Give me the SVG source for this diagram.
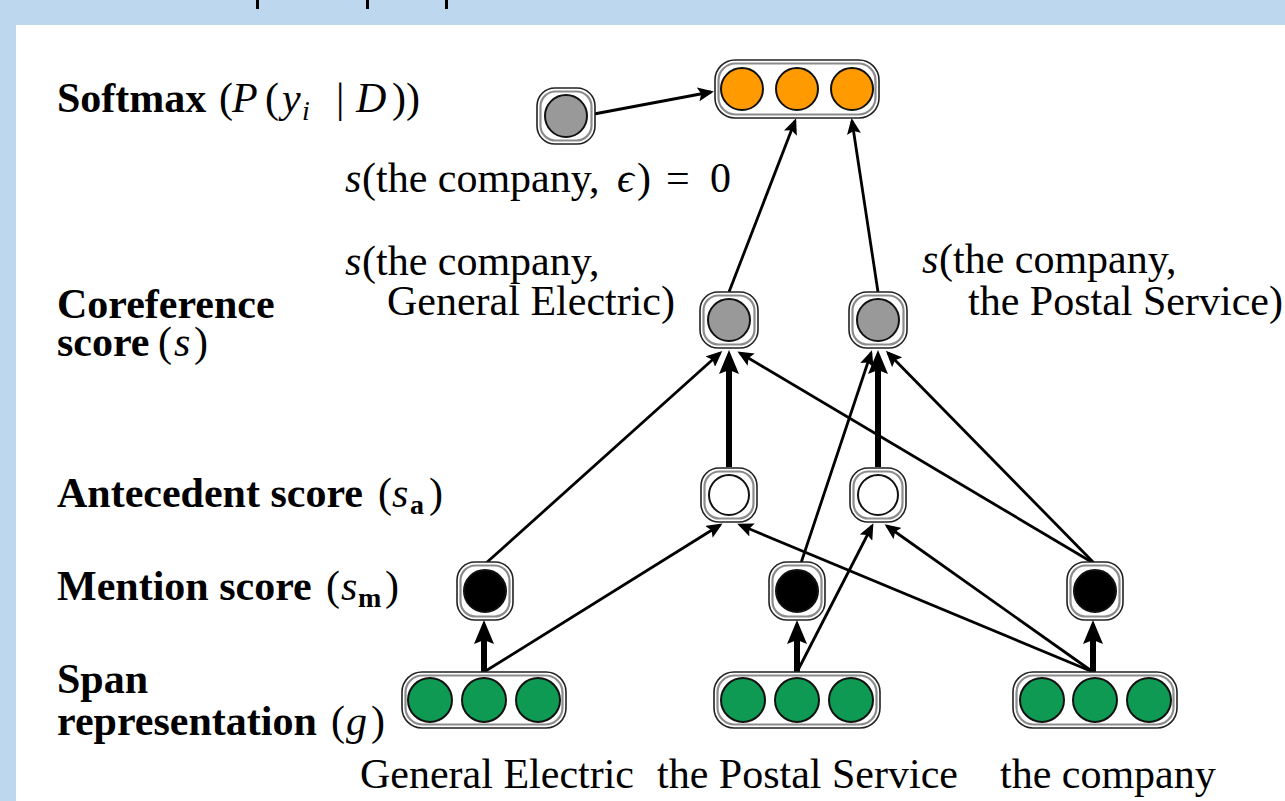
<svg xmlns="http://www.w3.org/2000/svg" width="1285" height="801" viewBox="0 0 1285 801">
<style>
.t{font-family:"Liberation Serif","Times New Roman",serif;font-size:42px;fill:#000}
.b{font-weight:bold}
.i{font-style:italic}
.sm{font-size:28px}
.fo{fill:#fff;stroke:#222;stroke-width:1.6}
.fi{fill:none;stroke:#8c8c8c;stroke-width:2.2}
.c{stroke:#111;stroke-width:2}
.gray{fill:#999}
.blk{fill:#000}
.wht{fill:#fff}
.org{fill:#FF9A00}
.grn{fill:#0F9A54}
.thin{stroke:#000;stroke-width:2.8;fill:none;marker-end:url(#ah)}
.thick{stroke:#000;stroke-width:6;fill:none;marker-end:url(#ahb)}
</style>
<defs>
<marker id="ah" viewBox="0 0 16 14" markerWidth="16" markerHeight="14" refX="13" refY="7" orient="auto" markerUnits="userSpaceOnUse">
<path d="M0,0 L16,7 L0,14 L3,7 z" fill="#000"/>
</marker>
<marker id="ahb" viewBox="0 0 24 20" markerWidth="24" markerHeight="20" refX="16" refY="10" orient="auto" markerUnits="userSpaceOnUse">
<path d="M0,0 L24,10 L0,20 L4,10 z" fill="#000"/>
</marker>
</defs>
<rect x="0" y="0" width="1285" height="801" fill="#BDD7EE"/>
<rect x="16" y="25" width="1269" height="776" fill="#fff"/>
<g id="top-ticks" fill="#000">
<rect x="256" y="0" width="3" height="9"/>
<rect x="366" y="0" width="3" height="9"/>
<rect x="445" y="0" width="3" height="9"/>
</g>

<g id="connectors">
<line class="thin" x1="594" y1="114" x2="711" y2="92"/>
<line class="thin" x1="729" y1="292" x2="795" y2="121"/>
<line class="thin" x1="878" y1="292" x2="852" y2="121"/>
<line class="thick" x1="729" y1="467" x2="729" y2="358"/>
<line class="thick" x1="878" y1="467" x2="878" y2="358"/>
<line class="thin" x1="485" y1="564" x2="720" y2="353"/>
<line class="thin" x1="1095" y1="564" x2="740" y2="353"/>
<line class="thin" x1="800" y1="566" x2="871" y2="353"/>
<line class="thin" x1="1095" y1="564" x2="888" y2="353"/>
<line class="thick" x1="484" y1="672" x2="484" y2="628"/>
<line class="thin" x1="484" y1="672" x2="720" y2="525"/>
<line class="thick" x1="797" y1="672" x2="797" y2="628"/>
<line class="thin" x1="797" y1="672" x2="872" y2="526"/>
<line class="thick" x1="1093" y1="672" x2="1093" y2="628"/>
<line class="thin" x1="1093" y1="672" x2="740" y2="525"/>
<line class="thin" x1="1093" y1="672" x2="887" y2="526"/>
</g>

<g id="softmax" transform="translate(797,89)">
<rect class="fo" x="-82" y="-29" width="164" height="58" rx="20"/>
<rect class="fi" x="-78.5" y="-25.5" width="157" height="51" rx="17"/>
<circle class="c org" cx="-55" cy="0" r="21"/>
<circle class="c org" cx="0" cy="0" r="21"/>
<circle class="c org" cx="55" cy="0" r="21"/>
</g>
<g id="null-score" transform="translate(566,116)">
<rect class="fo" x="-29" y="-28" width="58" height="56" rx="18"/>
<rect class="fi" x="-25.5" y="-24.5" width="51" height="49" rx="15"/>
<circle class="c gray" r="21"/>
</g>
<g id="coref-ge" transform="translate(729,320)">
<rect class="fo" x="-29" y="-28" width="58" height="56" rx="18"/>
<rect class="fi" x="-25.5" y="-24.5" width="51" height="49" rx="15"/>
<circle class="c gray" r="21"/>
</g>
<g id="coref-ps" transform="translate(878,320)">
<rect class="fo" x="-29" y="-28" width="58" height="56" rx="18"/>
<rect class="fi" x="-25.5" y="-24.5" width="51" height="49" rx="15"/>
<circle class="c gray" r="21"/>
</g>
<g id="ante-ge" transform="translate(729,495)">
<rect class="fo" x="-28" y="-27" width="56" height="54" rx="18"/>
<rect class="fi" x="-24.5" y="-23.5" width="49" height="47" rx="15"/>
<circle class="c wht" r="20"/>
</g>
<g id="ante-ps" transform="translate(878,495)">
<rect class="fo" x="-28" y="-27" width="56" height="54" rx="18"/>
<rect class="fi" x="-24.5" y="-23.5" width="49" height="47" rx="15"/>
<circle class="c wht" r="20"/>
</g>
<g id="mention-ge" transform="translate(485,591)">
<rect class="fo" x="-28" y="-29" width="56" height="58" rx="18"/>
<rect class="fi" x="-24.5" y="-25.5" width="49" height="51" rx="15"/>
<circle class="c blk" r="21"/>
</g>
<g id="mention-ps" transform="translate(797,591)">
<rect class="fo" x="-28" y="-29" width="56" height="58" rx="18"/>
<rect class="fi" x="-24.5" y="-25.5" width="49" height="51" rx="15"/>
<circle class="c blk" r="21"/>
</g>
<g id="mention-tc" transform="translate(1095,591)">
<rect class="fo" x="-28" y="-29" width="56" height="58" rx="18"/>
<rect class="fi" x="-24.5" y="-25.5" width="49" height="51" rx="15"/>
<circle class="c blk" r="21"/>
</g>
<g id="span-ge" transform="translate(484,700)">
<rect class="fo" x="-82" y="-28" width="164" height="56" rx="20"/>
<rect class="fi" x="-78.5" y="-24.5" width="157" height="49" rx="17"/>
<circle class="c grn" cx="-54" cy="0" r="22"/>
<circle class="c grn" cx="0" cy="0" r="22"/>
<circle class="c grn" cx="54" cy="0" r="22"/>
</g>
<g id="span-ps" transform="translate(797,700)">
<rect class="fo" x="-83" y="-28" width="166" height="56" rx="20"/>
<rect class="fi" x="-79.5" y="-24.5" width="159" height="49" rx="17"/>
<circle class="c grn" cx="-54" cy="0" r="22"/>
<circle class="c grn" cx="0" cy="0" r="22"/>
<circle class="c grn" cx="54" cy="0" r="22"/>
</g>
<g id="span-tc" transform="translate(1095,700)">
<rect class="fo" x="-82" y="-28" width="164" height="56" rx="20"/>
<rect class="fi" x="-78.5" y="-24.5" width="157" height="49" rx="17"/>
<circle class="c grn" cx="-53" cy="0" r="22"/>
<circle class="c grn" cx="0" cy="0" r="22"/>
<circle class="c grn" cx="54" cy="0" r="22"/>
</g>

<g id="labels">
<text class="t" y="112"><tspan class="b" x="57">Softmax</tspan><tspan x="219">(</tspan><tspan class="i" x="232">P</tspan><tspan x="265">(</tspan><tspan class="i" x="282">y</tspan><tspan class="i sm" x="302" y="120">i</tspan><tspan x="336" y="112">|</tspan><tspan class="i" x="356">D</tspan><tspan x="392">))</tspan></text>
<text class="t b" x="57" y="318">Coreference</text>
<text class="t" y="356"><tspan class="b" x="57">score</tspan><tspan x="158">(</tspan><tspan class="i" x="174">s</tspan><tspan x="194">)</tspan></text>
<text class="t" y="507"><tspan class="b" x="57">Antecedent score</tspan><tspan x="378">(</tspan><tspan class="i" x="392">s</tspan><tspan class="b sm" x="410" y="514">a</tspan><tspan x="429" y="507">)</tspan></text>
<text class="t" y="600"><tspan class="b" x="57">Mention score</tspan><tspan x="326">(</tspan><tspan class="i" x="341">s</tspan><tspan class="b sm" x="358" y="607">m</tspan><tspan x="385" y="600">)</tspan></text>
<text class="t b" x="57" y="693">Span</text>
<text class="t" y="735"><tspan class="b" x="57">representation</tspan><tspan x="331">(</tspan><tspan class="i" x="346">g</tspan><tspan x="371">)</tspan></text>

<text class="t" y="192"><tspan class="i" x="345">s</tspan><tspan x="362">(the company,</tspan><tspan class="i" x="617">ϵ</tspan><tspan x="637">)</tspan><tspan x="666">=</tspan><tspan x="710">0</tspan></text>
<text class="t" y="275"><tspan class="i" x="345">s</tspan><tspan x="362">(the company,</tspan></text>
<text class="t" x="387" y="315">General Electric)</text>
<text class="t" y="273"><tspan class="i" x="922">s</tspan><tspan x="939">(the company,</tspan></text>
<text class="t" x="968" y="315">the Postal Service)</text>

<text class="t" x="360" y="788">General Electric</text>
<text class="t" x="657" y="788">the Postal Service</text>
<text class="t" x="1000" y="788">the company</text>
</g>
</svg>
